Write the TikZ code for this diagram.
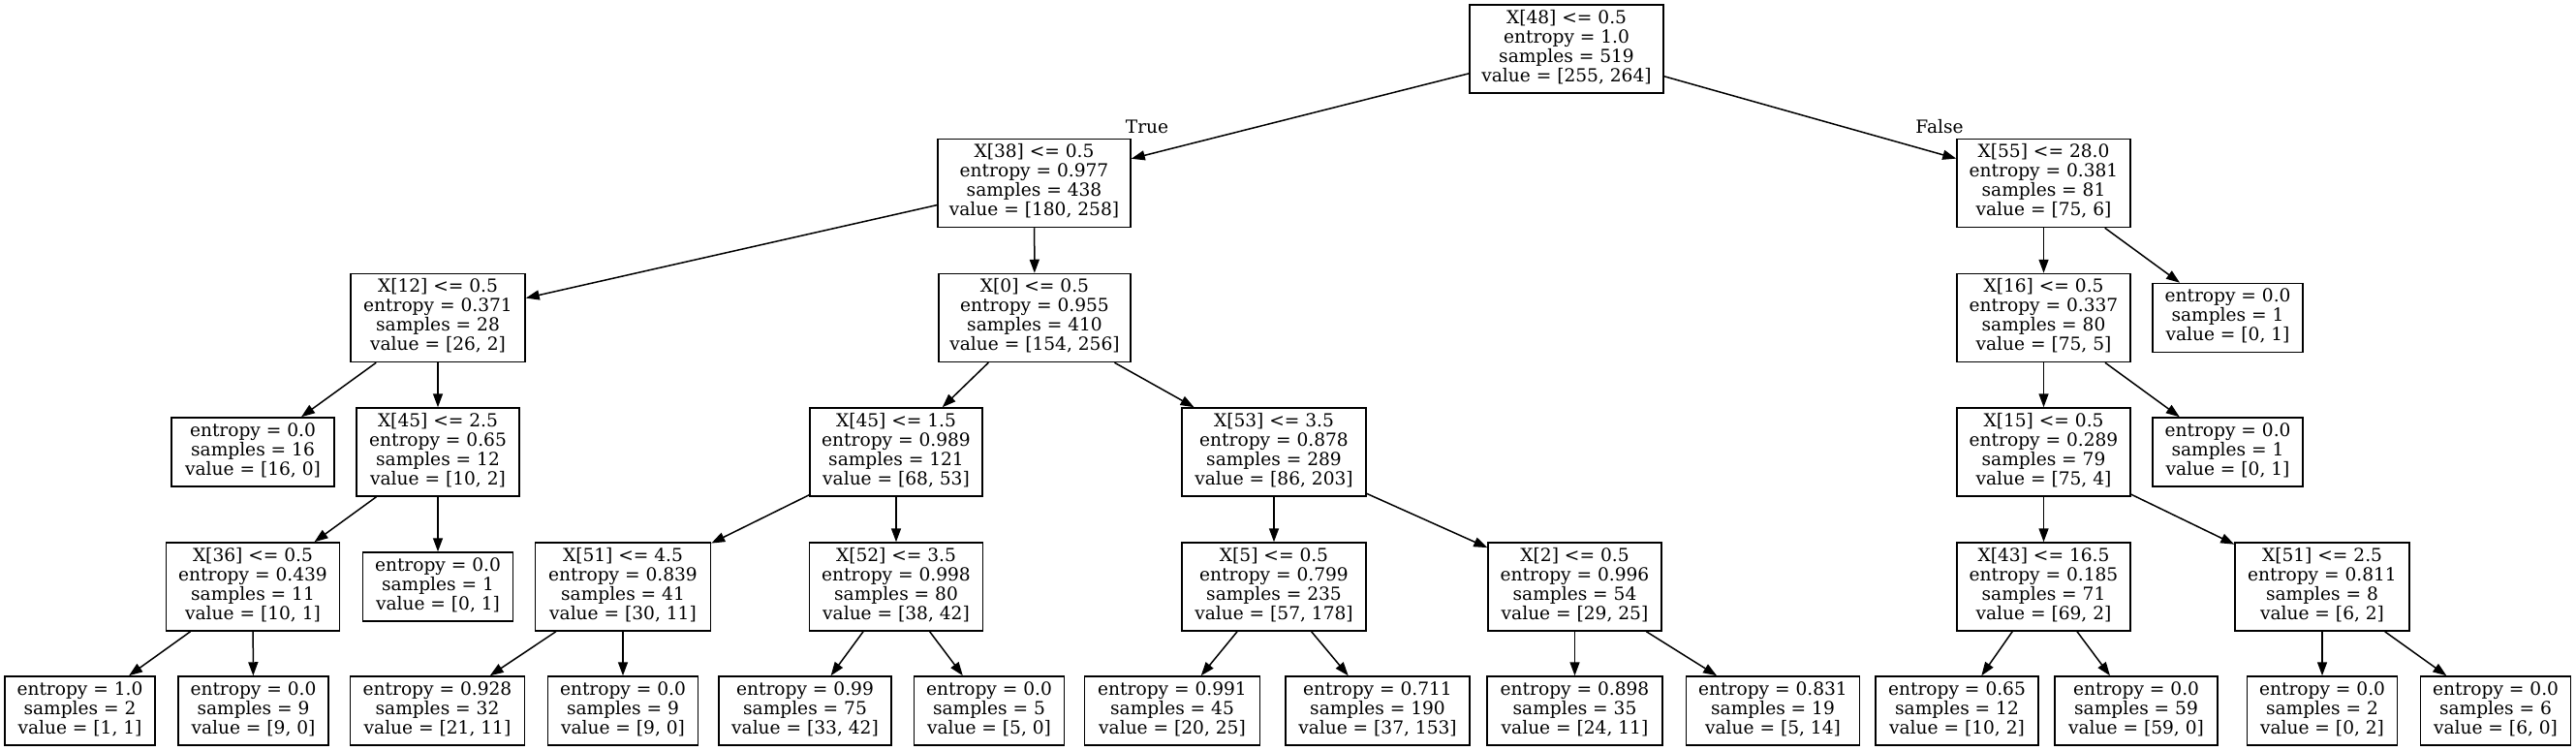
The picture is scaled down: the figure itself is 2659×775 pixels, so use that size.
\documentclass[tikz,border=0pt]{standalone}
\usepackage{fontspec}
\setmainfont{DejaVu Serif}
\usetikzlibrary{arrows.meta}
\newcommand{\treefontsel}{\fontsize{9.3}{10}\selectfont\lineskiplimit=-20pt\relax\lineskip=0pt\relax}
\begin{document}
\begin{tikzpicture}[x=0.5pt,y=-0.5pt,
  treebox/.style={draw,line width=0.75pt,rectangle,align=center,inner xsep=3pt,inner ysep=0pt,
    font=\treefontsel,
    execute at begin node={\rule{0pt}{9.5pt}},execute at end node={\rule[-3.3pt]{0pt}{3.3pt}}},
  splitnode/.style={treebox,minimum height=45.5pt},
  leafnode/.style={treebox,minimum height=35.5pt},
  conn/.style={line width=0.75pt,-{Triangle[length=7pt,width=5pt]}},
  elabel/.style={inner sep=0pt,anchor=base,font=\fontsize{9.3}{10}\selectfont}]
\useasboundingbox (0,0) rectangle (2659,775);
% row 0
\node[splitnode,minimum width=100pt] (A) at (1617,50.5) {X[48] <= 0.5\\entropy = 1.0\\samples = 519\\value = [255, 264]};
% row 1
\node[splitnode,minimum width=99.5pt] (B) at (1067.5,189) {X[38] <= 0.5\\entropy = 0.977\\samples = 438\\value = [180, 258]};
\node[splitnode,minimum width=89.5pt] (C) at (2109.5,189) {X[55] <= 28.0\\entropy = 0.381\\samples = 81\\value = [75, 6]};
% row 2
\node[splitnode,minimum width=90pt] (D) at (452,328) {X[12] <= 0.5\\entropy = 0.371\\samples = 28\\value = [26, 2]};
\node[splitnode,minimum width=99pt] (E) at (1068,328) {X[0] <= 0.5\\entropy = 0.955\\samples = 410\\value = [154, 256]};
\node[splitnode,minimum width=89.5pt] (F) at (2109.5,328) {X[16] <= 0.5\\entropy = 0.337\\samples = 80\\value = [75, 5]};
\node[leafnode,minimum width=77.5pt] (G) at (2299.5,328) {entropy = 0.0\\samples = 1\\value = [0, 1]};
% row 3
\node[leafnode,minimum width=84pt] (H) at (261,466.5) {entropy = 0.0\\samples = 16\\value = [16, 0]};
\node[splitnode,minimum width=84pt] (I) at (452,466.5) {X[45] <= 2.5\\entropy = 0.65\\samples = 12\\value = [10, 2]};
\node[splitnode,minimum width=89pt] (J) at (925,466.5) {X[45] <= 1.5\\entropy = 0.989\\samples = 121\\value = [68, 53]};
\node[splitnode,minimum width=95pt] (K) at (1315,466.5) {X[53] <= 3.5\\entropy = 0.878\\samples = 289\\value = [86, 203]};
\node[splitnode,minimum width=89.5pt] (L) at (2109.5,466.5) {X[15] <= 0.5\\entropy = 0.289\\samples = 79\\value = [75, 4]};
\node[leafnode,minimum width=77.5pt] (M) at (2299.5,466.5) {entropy = 0.0\\samples = 1\\value = [0, 1]};
% row 4
\node[splitnode,minimum width=89.5pt] (N) at (261,605.5) {X[36] <= 0.5\\entropy = 0.439\\samples = 11\\value = [10, 1]};
\node[leafnode,minimum width=77.5pt] (O) at (452,605.5) {entropy = 0.0\\samples = 1\\value = [0, 1]};
\node[splitnode,minimum width=90.5pt] (P) at (643,605.5) {X[51] <= 4.5\\entropy = 0.839\\samples = 41\\value = [30, 11]};
\node[splitnode,minimum width=89.5pt] (Q) at (925,605.5) {X[52] <= 3.5\\entropy = 0.998\\samples = 80\\value = [38, 42]};
\node[splitnode,minimum width=95pt] (R) at (1315,605.5) {X[5] <= 0.5\\entropy = 0.799\\samples = 235\\value = [57, 178]};
\node[splitnode,minimum width=89.5pt] (S) at (1625.5,605.5) {X[2] <= 0.5\\entropy = 0.996\\samples = 54\\value = [29, 25]};
\node[splitnode,minimum width=89.5pt] (T) at (2109.5,605.5) {X[43] <= 16.5\\entropy = 0.185\\samples = 71\\value = [69, 2]};
\node[splitnode,minimum width=90pt] (U) at (2397,605.5) {X[51] <= 2.5\\entropy = 0.811\\samples = 8\\value = [6, 2]};
% row 5
\node[leafnode,minimum width=77.5pt] (l1) at (82.5,733.5) {entropy = 1.0\\samples = 2\\value = [1, 1]};
\node[leafnode,minimum width=77.5pt] (l2) at (261.5,733.5) {entropy = 0.0\\samples = 9\\value = [9, 0]};
\node[leafnode,minimum width=90pt] (l3) at (451.5,733.5) {entropy = 0.928\\samples = 32\\value = [21, 11]};
\node[leafnode,minimum width=77.5pt] (l4) at (643,733.5) {entropy = 0.0\\samples = 9\\value = [9, 0]};
\node[leafnode,minimum width=89pt] (l5) at (831,733.5) {entropy = 0.99\\samples = 75\\value = [33, 42]};
\node[leafnode,minimum width=77.5pt] (l6) at (1021,733.5) {entropy = 0.0\\samples = 5\\value = [5, 0]};
\node[leafnode,minimum width=90.5pt] (l7) at (1210,733.5) {entropy = 0.991\\samples = 45\\value = [20, 25]};
\node[leafnode,minimum width=95pt] (l8) at (1422,733.5) {entropy = 0.711\\samples = 190\\value = [37, 153]};
\node[leafnode,minimum width=90.5pt] (l9) at (1625.5,733.5) {entropy = 0.898\\samples = 35\\value = [24, 11]};
\node[leafnode,minimum width=89.5pt] (l10) at (1830,733.5) {entropy = 0.831\\samples = 19\\value = [5, 14]};
\node[leafnode,minimum width=84pt] (l11) at (2020,733.5) {entropy = 0.65\\samples = 12\\value = [10, 2]};
\node[leafnode,minimum width=84pt] (l12) at (2205,733.5) {entropy = 0.0\\samples = 59\\value = [59, 0]};
\node[leafnode,minimum width=77.5pt] (l13) at (2397,733.5) {entropy = 0.0\\samples = 2\\value = [0, 2]};
\node[leafnode,minimum width=77.5pt] (l14) at (2576,733.5) {entropy = 0.0\\samples = 6\\value = [6, 0]};
% edge labels
\node[elabel] (tl) at (1184,138) {True};
\node[elabel] (fl) at (2002,138) {False};
% edges
\draw[conn] (A) -- (B);
\draw[conn] (A) -- (C);
\draw[conn] (B) -- (D);
\draw[conn] (B) -- (E);
\draw[conn] (D) -- (H);
\draw[conn] (D) -- (I);
\draw[conn] (I) -- (N);
\draw[conn] (I) -- (O);
\draw[conn] (N) -- (l1);
\draw[conn] (N) -- (l2);
\draw[conn] (E) -- (J);
\draw[conn] (E) -- (K);
\draw[conn] (J) -- (P);
\draw[conn] (J) -- (Q);
\draw[conn] (P) -- (l3);
\draw[conn] (P) -- (l4);
\draw[conn] (Q) -- (l5);
\draw[conn] (Q) -- (l6);
\draw[conn] (K) -- (R);
\draw[conn] (K) -- (S);
\draw[conn] (R) -- (l7);
\draw[conn] (R) -- (l8);
\draw[conn] (S) -- (l9);
\draw[conn] (S) -- (l10);
\draw[conn] (C) -- (F);
\draw[conn] (C) -- (G);
\draw[conn] (F) -- (L);
\draw[conn] (F) -- (M);
\draw[conn] (L) -- (T);
\draw[conn] (L) -- (U);
\draw[conn] (T) -- (l11);
\draw[conn] (T) -- (l12);
\draw[conn] (U) -- (l13);
\draw[conn] (U) -- (l14);
\end{tikzpicture}
\end{document}
